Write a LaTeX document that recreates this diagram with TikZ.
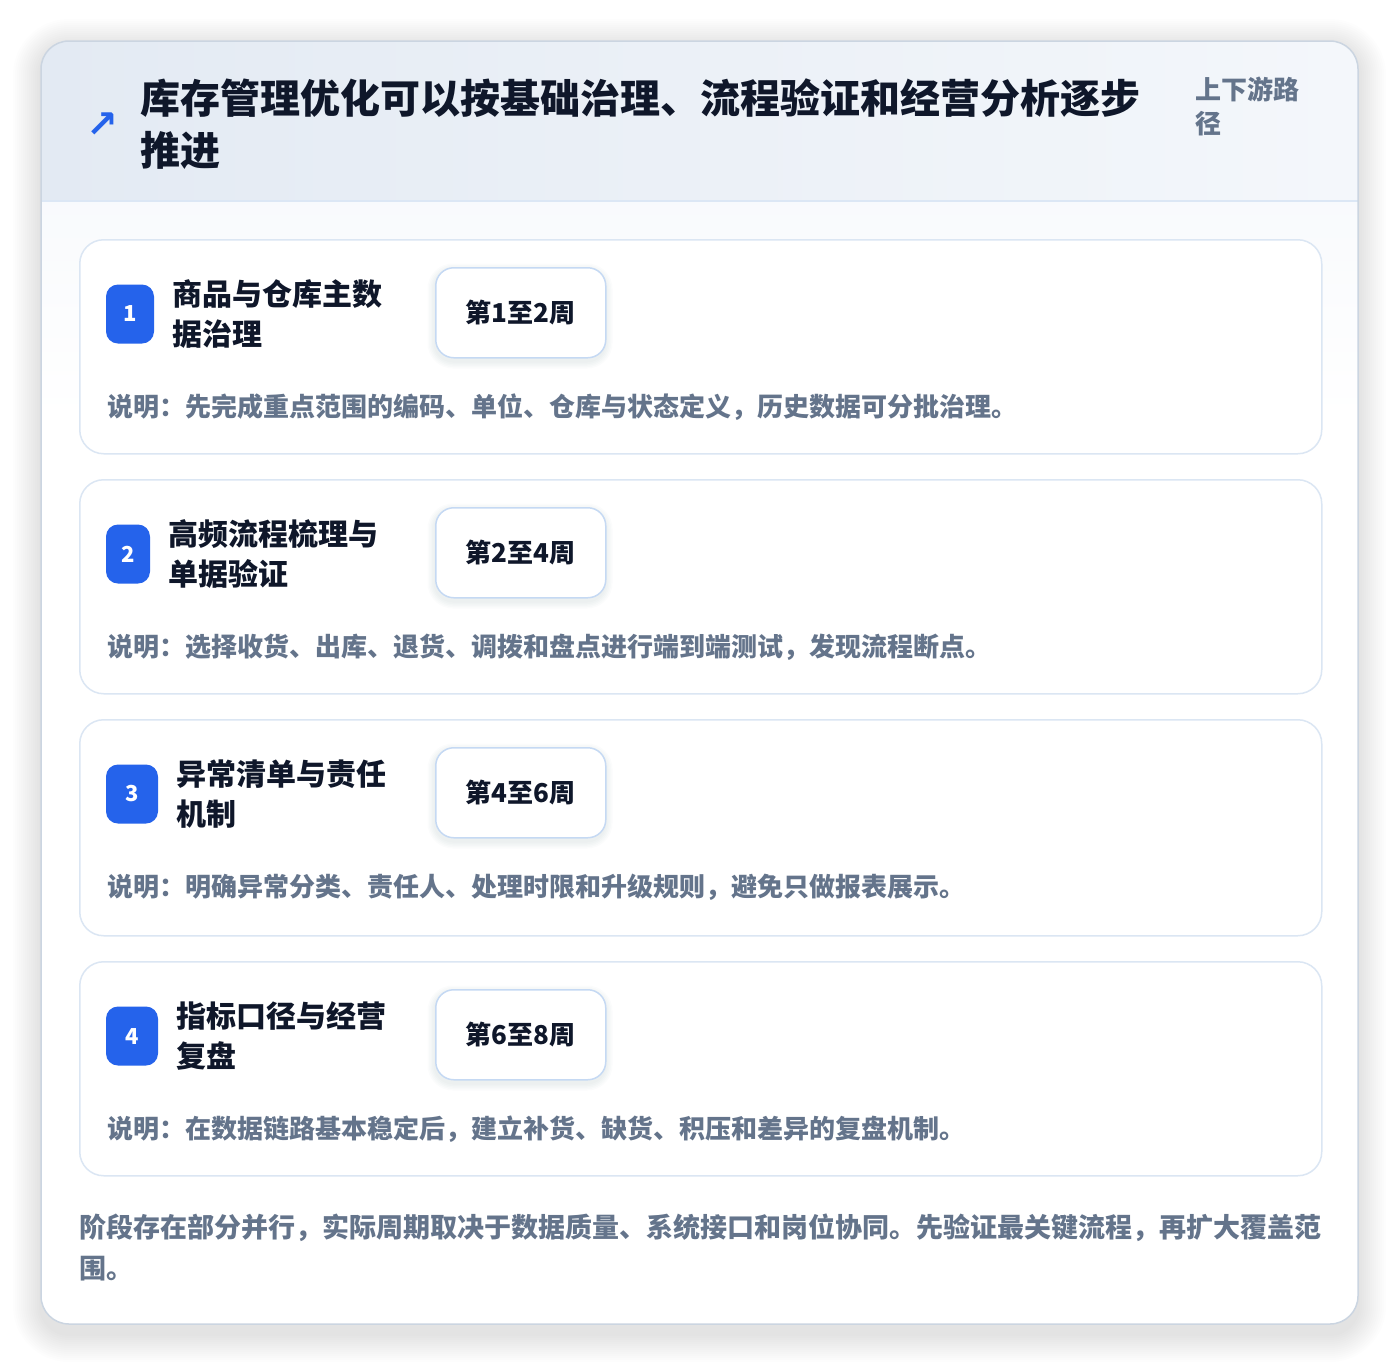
\documentclass[tikz,border=0pt]{standalone}
\usepackage{fontspec}
\setmainfont{Noto Sans CJK SC}
\newfontfamily\symfont{DejaVu Sans}
\definecolor{cblue}{HTML}{2563EB}
\definecolor{cdark}{HTML}{0F172A}
\definecolor{cgray}{HTML}{64748B}
\definecolor{ccardline}{HTML}{DBE6F3}
\definecolor{cpillline}{HTML}{C5D9F3}
\definecolor{couter}{HTML}{CBD5E1}
\definecolor{chead1}{HTML}{E3EAF3}
\definecolor{chead2}{HTML}{F4F7FB}
\definecolor{cheadline}{HTML}{DCE7F5}
\definecolor{cshadow}{HTML}{334155}
\tikzset{
  card/.style={draw=ccardline, line width=1.5pt, fill=white, rounded corners=24pt, inner sep=0pt},
  badge/.style={fill=cblue, rounded corners=12pt, text=white, font=\bfseries\fontsize{22}{22}\selectfont, inner sep=0pt, minimum height=59pt},
  pill/.style={draw=cpillline, line width=1.5pt, fill=white, rounded corners=18pt, minimum width=170pt, minimum height=90pt, inner sep=0pt, text=cdark, font=\bfseries\fontsize{26}{26}\selectfont},
  steptitle/.style={anchor=west, align=left, inner sep=0pt, text=cdark, font=\bfseries\fontsize{30}{40}\selectfont},
  desc/.style={anchor=west, inner sep=0pt, text=cgray, font=\bfseries\fontsize{26}{30}\selectfont},
}
\newcommand{\stepcard}[8]{%
  % #1 top, #2 num, #3 title, #4 week, #5 desc, #6 badge width, #7 title x, #8 card height
  \node[card, minimum width=1242pt, minimum height=#8pt, anchor=north west] (card#2) at (79,#1) {};
  \node[badge, minimum width=#6pt] (badge#2) at ({106+#6/2},{#1+75}) {#2};
  \node[steptitle] (title#2) at (#7,{#1+75}) {#3};
  \foreach \k in {1,...,5}{
    \fill[cshadow, opacity=0.014, rounded corners={18+\k*1.5}] ({435-\k*1.5},{#1+28+4-\k*1.5}) rectangle ({605+\k*1.5},{#1+118+4+\k*1.5});
  }
  \node[pill, anchor=north west] (week#2) at (435,{#1+28}) {#4};
  \node[desc] (desc#2) at (107,{#1+168}) {#5};
}
\begin{document}
\begin{tikzpicture}[x=1pt,y=-1pt]
\useasboundingbox (0,0) rectangle (1400,1366);
\fill[white] (0,0) rectangle (1400,1366);
% outer shadow
\foreach \k in {1,...,14}{
  \fill[cshadow, opacity=0.009, rounded corners={28+\k*2}] ({41-\k*2},{41+6-\k*2}) rectangle ({1358+\k*2},{1324+10+\k*2});
}
\path[fill=white, rounded corners=28pt] (41,41) rectangle (1358,1324);
\begin{scope}
  \clip[rounded corners=28pt] (41,41) rectangle (1358,1324);
  \shade[left color=chead1, right color=chead2] (41,41) rectangle (1358,201);
  \shade[top color=chead2!60!white, bottom color=white] (41,201) rectangle (1358,420);
  \draw[cheadline, line width=1.5pt] (41,201) -- (1358,201);
\end{scope}
\draw[couter, line width=1.5pt, rounded corners=28pt] (41,41) rectangle (1358,1324);
% header
\node[inner sep=0pt, text=cblue, font=\symfont\bfseries\fontsize{38}{38}\selectfont] (icon) at (102,125) {↗};
\node[anchor=west, align=left, inner sep=0pt, text=cdark, font=\bfseries\fontsize{40}{52}\selectfont] (title) at (140,124) {库存管理优化可以按基础治理、流程验证和经营分析逐步\\推进};
\node[anchor=west, align=left, inner sep=0pt, text=cgray, font=\bfseries\fontsize{26}{34}\selectfont] (scope) at (1195,106) {上下游路\\径};
% step cards
\stepcard{239}{1}{商品与仓库主数\\据治理}{第1至2周}{说明：先完成重点范围的编码、单位、仓库与状态定义，历史数据可分批治理。}{48}{172}{214}
\stepcard{479}{2}{高频流程梳理与\\单据验证}{第2至4周}{说明：选择收货、出库、退货、调拨和盘点进行端到端测试，发现流程断点。}{44}{168}{214}
\stepcard{719}{3}{异常清单与责任\\机制}{第4至6周}{说明：明确异常分类、责任人、处理时限和升级规则，避免只做报表展示。}{52}{176}{216}
\stepcard{961}{4}{指标口径与经营\\复盘}{第6至8周}{说明：在数据链路基本稳定后，建立补货、缺货、积压和差异的复盘机制。}{52}{176}{214}
% footer
\node[anchor=west, align=left, inner sep=0pt, text=cgray, font=\bfseries\fontsize{27}{41}\selectfont] (footer) at (79,1247) {阶段存在部分并行，实际周期取决于数据质量、系统接口和岗位协同。先验证最关键流程，再扩大覆盖范\\围。};
\end{tikzpicture}
\end{document}
